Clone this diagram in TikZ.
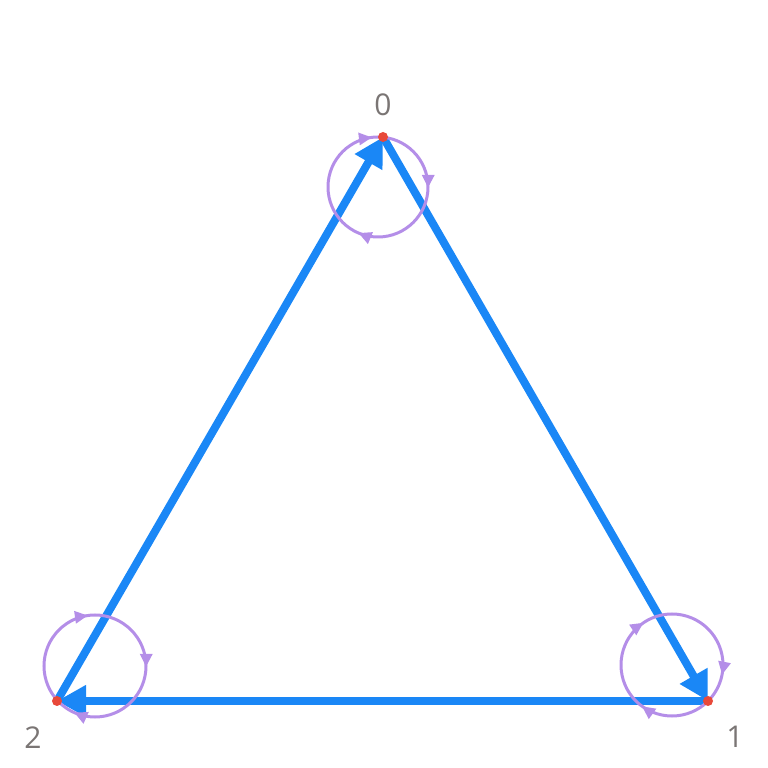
\documentclass[tikz,border=0pt]{standalone}
\usepackage{fontspec}
\setmainfont{Open Sans}
\usetikzlibrary{arrows.meta,calc}
\definecolor{edgeblue}{HTML}{1A87F6}
\definecolor{looppurple}{HTML}{B48EE8}
\definecolor{dotred}{HTML}{E8493A}
\definecolor{labelgray}{HTML}{7A7574}
\tikzset{
  edge/.style={draw=edgeblue, line width=8pt, -{Triangle[length=29pt,width=30pt]}},
  loopcirc/.style={draw=looppurple, line width=3pt},
  looparrow/.style={draw=looppurple, line width=3pt, -{Triangle[length=13pt,width=12pt]}},
  dot/.style={circle, fill=dotred, inner sep=0pt, minimum size=10pt},
  lbl/.style={text=labelgray, font=\fontsize{30pt}{34pt}\selectfont, inner sep=0pt}
}
\begin{document}
\begin{tikzpicture}[x=1pt,y=1pt]
\useasboundingbox (0,0) rectangle (768,768);
\coordinate (n0) at (383,631);
\coordinate (n1) at (708,67);
\coordinate (n2) at (57,67);
\coordinate (c0) at (378,581);
\coordinate (c1) at (672,103);
\coordinate (c2) at (95,102);
% edges
\draw[edge] (n0) -- (n1);
\draw[edge] (n1) -- (n2);
\draw[edge] (n2) -- (n0);
% loops
\draw[loopcirc] (c0) circle (50);
\draw[loopcirc] (c1) circle (51);
\draw[loopcirc] (c2) circle (51);
\foreach \a in {97,-1,-113} {
  \draw[looparrow] ($(c0)+(\a+12:50)$) arc[start angle=\a+12, end angle=\a, radius=50];
}
\foreach \a in {124,-11,-126} {
  \draw[looparrow] ($(c1)+(\a+12:51)$) arc[start angle=\a+12, end angle=\a, radius=51];
}
\foreach \a in {98,-1,-114} {
  \draw[looparrow] ($(c2)+(\a+12:51)$) arc[start angle=\a+12, end angle=\a, radius=51];
}
% node dots
\node[dot] (d0) at (n0) {};
\node[dot] (d1) at (n1) {};
\node[dot] (d2) at (n2) {};
% labels
\node[lbl] (l0) at (383,663) {0};
\node[lbl] (l1) at (735,31) {1};
\node[lbl] (l2) at (33,30) {2};
\end{tikzpicture}
\end{document}
